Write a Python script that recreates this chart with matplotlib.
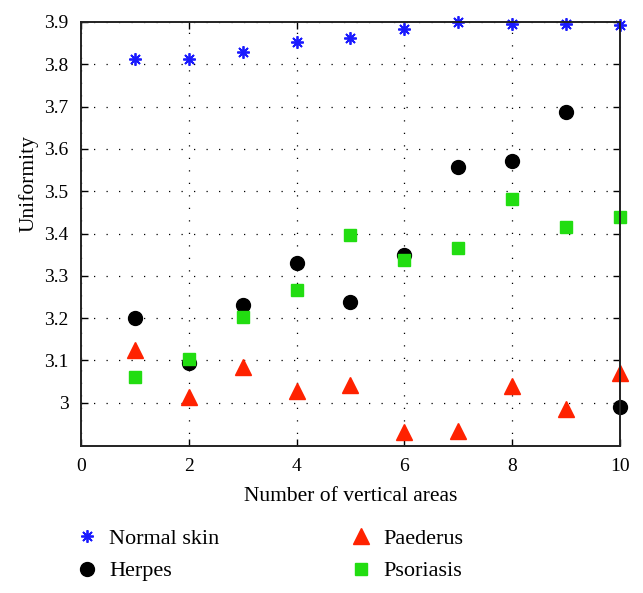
import matplotlib
matplotlib.use("Agg")
import matplotlib.pyplot as plt

# data
areas = [1, 2, 3, 4, 5, 6, 7, 8, 9, 10]
normal_skin = [3.812, 3.812, 3.828, 3.853, 3.861, 3.883, 3.900, 3.895, 3.895, 3.893]
herpes = [3.200, 3.094, 3.230, 3.331, 3.238, 3.349, 3.558, 3.571, 3.686, 2.989]
paederus = [3.125, 3.013, 3.084, 3.027, 3.043, 2.930, 2.934, 3.039, 2.985, 3.070]
psoriasis = [3.061, 3.103, 3.203, 3.266, 3.396, 3.337, 3.366, 3.481, 3.416, 3.440]

y_ticks = [3.0, 3.1, 3.2, 3.3, 3.4, 3.5, 3.6, 3.7, 3.8, 3.9]
y_labels = ["3", "3.1", "3.2", "3.3", "3.4", "3.5", "3.6", "3.7", "3.8", "3.9"]
x_ticks = [0, 2, 4, 6, 8, 10]

plt.rcParams['font.family'] = ['Liberation Serif', 'DejaVu Serif']
plt.rcParams['font.size'] = 14

fig = plt.figure(figsize=(6.43, 5.93), dpi=100)
ax = fig.add_axes([0.126, 0.248, 0.838, 0.715])

ax.plot(areas, normal_skin, linestyle='none', marker=(8, 2, 0), markersize=9,
        markeredgewidth=1.3, color='#1a1aff', label='Normal skin', clip_on=False)
ax.plot(areas, herpes, linestyle='none', marker='o', markersize=10,
        color='black', label='Herpes', clip_on=False)
ax.plot(areas, paederus, linestyle='none', marker='^', markersize=11,
        color='#ff2200', label='Paederus', clip_on=False)
ax.plot(areas, psoriasis, linestyle='none', marker='s', markersize=8,
        color='#22dd11', label='Psoriasis', clip_on=False)

ax.set_xlim(0, 10)
ax.set_ylim(2.898, 3.9)
ax.set_xticks(x_ticks)
ax.set_yticks(y_ticks)
ax.set_yticklabels(y_labels)
ax.tick_params(direction='in', top=True, right=True, length=5, width=1, pad=9)
ax.grid(True, color='black', linestyle=(0, (1, 9)), linewidth=0.9)

for s in ax.spines.values():
    s.set_linewidth(1.4)
    s.set_color('#222222')

ax.set_xlabel("Number of vertical areas", fontsize=15.5, labelpad=8)
ax.set_ylabel("Uniformity", fontsize=15.5)
ax.yaxis.set_label_coords(-0.078, 0.618)

fig.legend(*ax.get_legend_handles_labels(), loc='upper left',
           bbox_to_anchor=(76 / 643, 1 - 528 / 593), ncol=2, frameon=False,
           borderpad=0, borderaxespad=0, handlelength=1.0, handletextpad=0.5,
           columnspacing=5.85, labelspacing=0.55, fontsize=16)

fig.savefig("out.png", dpi=100)
